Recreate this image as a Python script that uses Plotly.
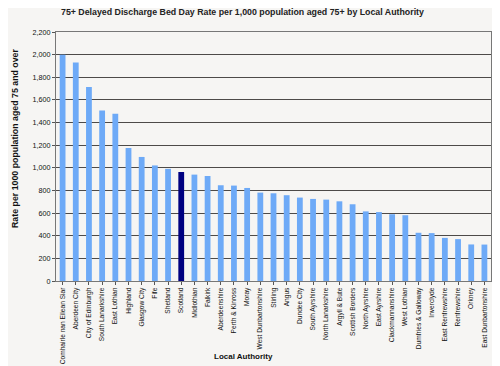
import plotly.graph_objects as go

authorities = [
    "Comhairle nan Eilean Siar", "Aberdeen City", "City of Edinburgh", "South Lanarkshire",
    "East Lothian", "Highland", "Glasgow City", "Fife", "Shetland", "Scotland",
    "Midlothian", "Falkirk", "Aberdeenshire", "Perth & Kinross", "Moray",
    "West Dunbartonshire", "Stirling", "Angus", "Dundee City", "South Ayrshire",
    "North Lanarkshire", "Argyll & Bute", "Scottish Borders", "North Ayrshire",
    "East Ayrshire", "Clackmannanshire", "West Lothian", "Dumfries & Galloway",
    "Inverclyde", "East Renfrewshire", "Renfrewshire", "Orkney", "East Dunbartonshire",
]
rates = [
    1998, 1930, 1714, 1507, 1478, 1174, 1096, 1021, 991, 963,
    940, 928, 846, 843, 822, 781, 775, 758, 737, 725,
    719, 704, 678, 615, 609, 590, 581, 426, 423, 381,
    370, 323, 322,
]
highlight = "Scotland"

colors = ["#000080" if a == highlight else "#6eaaf7" for a in authorities]

fig = go.Figure(go.Bar(x=authorities, y=rates, marker=dict(color=colors, line=dict(width=0))))

W, H = 500, 366
L, R, T, B = 48, 17, 24, 93
pw, ph = W - L - R, H - T - B

fig.update_layout(
    width=W, height=H,
    paper_bgcolor="#f6f5f3", plot_bgcolor="#f6f5f3",
    margin=dict(l=L, r=R, t=T, b=B, autoexpand=False),
    bargap=0.56,
    showlegend=False,
    font=dict(family="Liberation Sans, Arial, sans-serif", color="#111111"),
    annotations=[
        dict(text="<b>75+ Delayed Discharge Bed Day Rate per 1,000 population aged 75+ by Local Authority</b>",
             xref="paper", yref="paper", x=(234 - L) / pw, y=1 + (T - 4.5) / ph,
             xanchor="center", yanchor="middle", showarrow=False,
             font=dict(size=8.8, color="#222222")),
        dict(text="<b>Rate per 1000 population aged 75 and over</b>",
             xref="paper", yref="paper", x=(7 - L) / pw, y=1 - (138 - 8 - T) / ph,
             xanchor="center", yanchor="middle", textangle=-90, showarrow=False,
             font=dict(size=8.8, color="#111111")),
        dict(text="<b>Local Authority</b>",
             xref="paper", yref="paper", x=(235 - L) / pw, y=-(348 - T - ph) / ph,
             xanchor="center", yanchor="middle", showarrow=False,
             font=dict(size=8, color="#111111")),
    ],
)
fig.update_yaxes(
    range=[0, 2200], dtick=200, tickformat=",d",
    showgrid=True, gridcolor="#4d4a48", gridwidth=1,
    showline=True, linecolor="#777777", linewidth=1, mirror=True,
    ticks="outside", ticklen=3, tickcolor="#555555",
    tickfont=dict(size=7.2), automargin=False,
    zeroline=False,
)
fig.update_xaxes(
    tickangle=-90, tickfont=dict(size=6.6), automargin=False,
    showline=True, linecolor="#777777", linewidth=1, mirror=True,
    ticks="outside", ticklen=3, tickcolor="#555555",
)

fig.write_html("out.html")
